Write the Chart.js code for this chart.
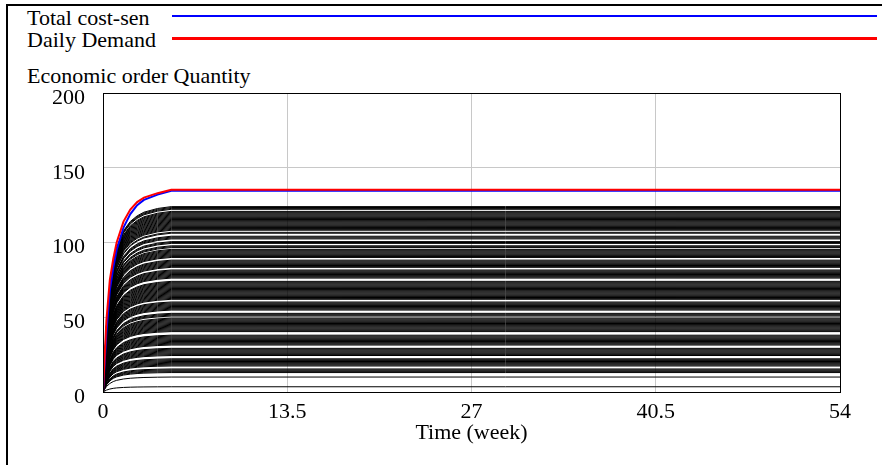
<!DOCTYPE html>
<html>
<head>
<meta charset="utf-8">
<script src="https://cdn.jsdelivr.net/npm/chart.js@4.4.1/dist/chart.umd.min.js"></script>
<style>
  body { margin: 0; background: #fff; }
  #wrap { position: relative; width: 882px; height: 465px; overflow: hidden; background: #fff; }
  #frame { position: absolute; left: 6px; top: 4px; width: 900px; height: 500px; border-left: 2px solid #000; border-top: 2px solid #000; }
  .lbl { position: absolute; left: 27px; font-family: "Liberation Serif", "Times New Roman", serif; font-size: 22px; line-height: 22px; color: #000; white-space: nowrap; }
  .key { position: absolute; left: 172px; width: 705px; }
  canvas { position: absolute; left: 0; top: 0; }
</style>
</head>
<body>
<div id="wrap">
  <div id="frame"></div>
  <span class="lbl" style="top:7px">Total cost-sen</span>
  <div class="key" style="top:15px;height:2px;background:#0000ff"></div>
  <span class="lbl" style="top:29px">Daily Demand</span>
  <div class="key" style="top:37px;height:3px;background:#ff0000"></div>
  <span class="lbl" style="top:65px">Economic order Quantity</span>
  <canvas id="chart" width="882" height="465"></canvas>
</div>
<script>
// time points of the saved runs (week)
const times = [0, 0.25, 0.5, 0.75, 1, 1.5, 2, 2.5, 3, 4, 5, 54];
const dailyDemand = [0, 48, 75, 89, 100, 114, 122, 127, 130, 133, 135.3, 135.3];
const totalCostSen = [0, 40, 68, 83, 95, 110, 119, 125, 128.5, 132, 134.6, 134.6];
// share of the final level reached by the sensitivity runs at each time point
const runRise = [0, 0.36, 0.57, 0.7, 0.78, 0.87, 0.92, 0.95, 0.97, 0.99, 1, 1];
// final levels of the sensitivity runs (Economic order Quantity)
const runLevels = [124, 123.4, 122.8, 122.2, 120.8, 120.2, 119.6, 119, 118.4, 117.8, 117.2, 116.6, 116,
  115.4, 114.8, 114.2, 113.6, 113, 112.4, 111.8, 111.2, 110.6, 110, 109.4, 108.8, 108.2, 106.8, 106.2,
  104.2, 103.6, 103, 102.4, 100.6, 100, 99.4, 97.8, 97.2, 96.6, 95.4, 94.8, 94.2, 93.6, 93, 92.4, 91.8,
  91.2, 90.6, 90, 88.2, 87.6, 87, 86.4, 85.8, 85.2, 84.6, 84, 83.4, 81.6, 81, 80.4, 79.8, 79.2, 78.6, 78,
  77.4, 76.8, 76.2, 74, 73.4, 72.8, 72.2, 71.6, 71, 70.4, 69.8, 69.2, 68.6, 68, 67.4, 66.8, 66.2, 65.6,
  65, 64.4, 63.8, 63.2, 62.6, 62, 60.2, 59.6, 59, 58.4, 57.8, 57.2, 56.6, 56, 55.4, 54.8, 52.6, 52, 51.4,
  50.8, 49.4, 48.8, 48.2, 47.6, 47, 46.4, 45.8, 45.2, 44.6, 44, 43.4, 42.8, 42.2, 41.6, 41, 40.4, 38,
  37.4, 36.8, 36.2, 35.6, 35, 34.4, 33.8, 33.2, 32.6, 32, 31.4, 29.2, 28.6, 28, 27.4, 26.8, 26.2, 25.6,
  25, 24.4, 22.2, 21.6, 21, 20.4, 19.8, 19.2, 18.6, 18, 17.4, 15.4, 14.8, 14.2, 13.6, 13, 10, 3.5];
const xTicks = [0, 13.5, 27, 40.5, 54];
const yTicks = [0, 50, 100, 150, 200];

const font = { family: '"Liberation Serif", "Times New Roman", serif', size: 22 };

const datasets = [];
datasets.push({
    label: 'Daily Demand',
    data: times.map((t, i) => ({ x: t, y: dailyDemand[i] })),
    borderColor: '#ff0000', borderWidth: 2, pointRadius: 0
});
datasets.push({
    label: 'Total cost-sen',
    data: times.map((t, i) => ({ x: t, y: totalCostSen[i] })),
    borderColor: '#0000ff', borderWidth: 2, pointRadius: 0
});
runLevels.forEach(level => {
    datasets.push({
        label: 'Economic order Quantity',
        data: times.map((t, i) => ({ x: t, y: level * runRise[i] })),
        borderColor: '#000000', borderWidth: 1, pointRadius: 0
    });
});

// box round the plot area
const plotBox = {
    id: 'plotBox',
    afterDatasetsDraw(chart) {
        const a = chart.chartArea;
        const ctx = chart.ctx;
        ctx.save();
        ctx.strokeStyle = '#000';
        ctx.lineWidth = 1;
        ctx.strokeRect(Math.round(a.left) + 0.5, Math.round(a.top) + 0.5,
            Math.round(a.right - a.left), Math.round(a.bottom - a.top));
        ctx.restore();
    }
};

new Chart(document.getElementById('chart'), {
    type: 'line',
    data: { datasets: datasets },
    plugins: [plotBox],
    options: {
        responsive: false,
        animation: false,
        devicePixelRatio: 1,
        layout: { padding: { top: 93, right: 42, left: 0, bottom: 0 } },
        plugins: { legend: { display: false }, tooltip: { enabled: false } },
        scales: {
            x: {
                type: 'linear', min: 0, max: 54,
                afterBuildTicks: s => { s.ticks = xTicks.map(v => ({ value: v })); },
                afterFit: s => { s.height = 73; },
                grid: { color: '#c8c8c8', drawTicks: false },
                border: { display: false },
                ticks: { font: font, color: '#000', padding: 7, maxRotation: 0, autoSkip: false,
                    callback: v => String(v) },
                title: { display: true, text: 'Time (week)', font: font, color: '#000',
                    padding: { top: 0, bottom: 19 } }
            },
            y: {
                min: 0, max: 200,
                afterBuildTicks: s => { s.ticks = yTicks.map(v => ({ value: v })); },
                afterFit: s => { s.width = 103; },
                grid: { color: '#c8c8c8', drawTicks: false },
                border: { display: false },
                ticks: { font: font, color: '#000', padding: 18, labelOffset: 5 }
            }
        }
    }
});
</script>
</body>
</html>
